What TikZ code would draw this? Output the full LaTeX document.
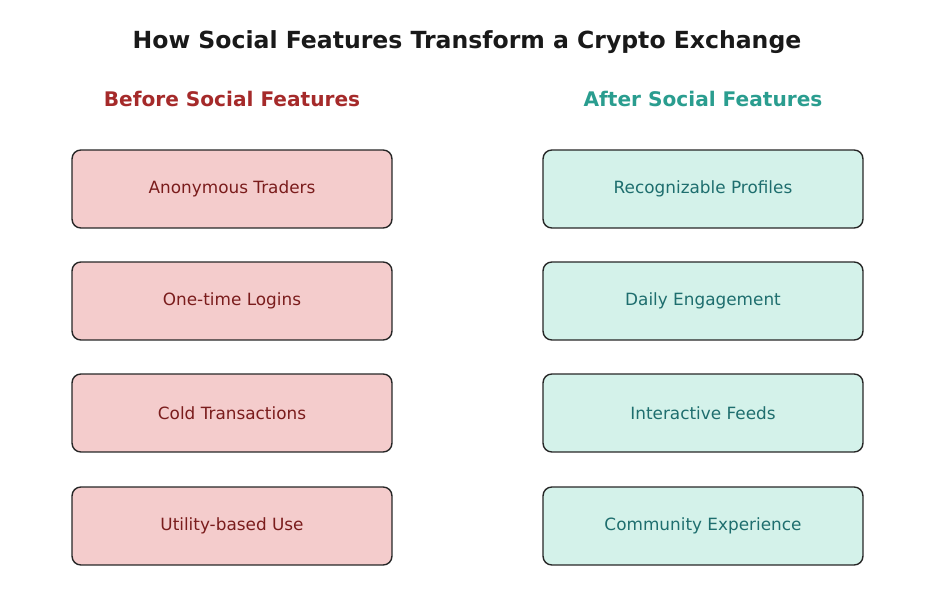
\documentclass[tikz,border=0pt]{standalone}
\usepackage{fontspec}
\setmainfont{DejaVu Sans}
\definecolor{beforefill}{HTML}{F4CCCC}
\definecolor{beforetext}{HTML}{7A1C1C}
\definecolor{beforehead}{HTML}{A52A2A}
\definecolor{afterfill}{HTML}{D4F2EA}
\definecolor{aftertext}{HTML}{1E6E6E}
\definecolor{afterhead}{HTML}{2A9D8F}
\tikzset{
    featbox/.style={draw=black!85, line width=0.8pt, rounded corners=5pt,
        minimum width=6.4cm, minimum height=1.56cm, font=\fontsize{9.6}{11}\selectfont},
    beforebox/.style={featbox, fill=beforefill, text=beforetext},
    afterbox/.style={featbox, fill=afterfill, text=aftertext},
    colhead/.style={font=\bfseries\fontsize{11.45}{13}\selectfont}
}
\begin{document}
\begin{tikzpicture}[x=0.02cm, y=-0.02cm]
    \useasboundingbox (0,0) rectangle (931,611);
    % title
    \node[font=\bfseries\fontsize{13.4}{15}\selectfont, text=black!90] (title) at (467,42) {How Social Features Transform a Crypto Exchange};
    % columns
    \node[colhead, text=beforehead] (before) at (232,99) {Before Social Features};
    \node[colhead, text=afterhead] (after) at (703,99) {After Social Features};
    \foreach \y/\txt [count=\i] in {189/Anonymous Traders, 301/One-time Logins, 413/Cold Transactions, 526/Utility-based Use}
        \node[beforebox] (b\i) at (232,\y) {\txt};
    \foreach \y/\txt [count=\i] in {189/Recognizable Profiles, 301/Daily Engagement, 413/Interactive Feeds, 526/Community Experience}
        \node[afterbox] (a\i) at (703,\y) {\txt};
\end{tikzpicture}
\end{document}
